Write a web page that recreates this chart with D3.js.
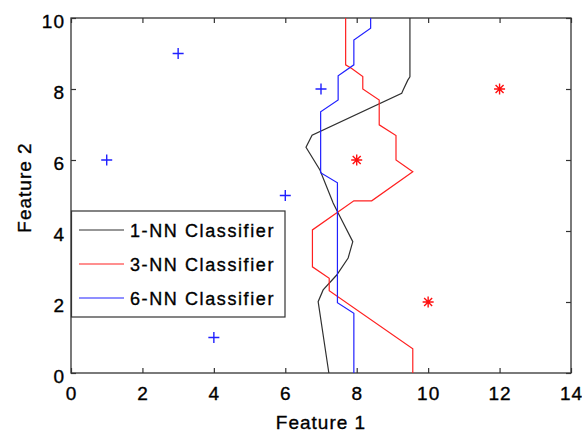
<!DOCTYPE html>
<html>
<head>
<meta charset="utf-8">
<script src="https://cdn.jsdelivr.net/npm/d3@7"></script>
<style>
  body { margin: 0; background: #fff; }
  text { font-family: "Liberation Sans", Arial, sans-serif; fill: #000; stroke: #000; stroke-width: 0.35px; }
</style>
</head>
<body>
<div id="chartContainer"></div>
<script>
const width = 582;
const height = 432;

// training points
const blueX = [1, 3, 4, 6, 7];
const blueY = [6, 9, 1, 5, 8];
const redX = [8, 10, 12];
const redY = [6, 2, 8];

// decision boundaries
const nn1X = [9.49, 9.49, 9.43, 9.30, 9.26, 6.75, 6.58, 6.97, 7.34, 7.48, 7.89, 7.76, 7.44, 7.06, 6.92, 7.22];
const nn1Y = [10, 8.34, 8.25, 7.97, 7.88, 6.70, 6.36, 5.72, 4.79, 4.51, 3.70, 3.24, 2.76, 2.34, 2.01, 0];
const nn3X = [7.69, 7.69, 7.86, 8.17, 8.17, 8.63, 8.63, 9.10, 9.10, 9.57, 8.42, 7.92, 6.76, 6.76, 7.23, 7.23, 9.57, 9.57];
const nn3Y = [10, 8.68, 8.58, 8.35, 8.0, 7.69, 6.99, 6.69, 6.0, 5.67, 4.85, 4.85, 4.03, 2.99, 2.67, 2.32, 0.68, 0];
const nn6X = [8.39, 8.39, 7.92, 7.92, 7.48, 7.48, 6.99, 6.99, 7.46, 7.46, 7.92, 7.92];
const nn6Y = [10, 9.71, 9.38, 8.68, 8.37, 7.69, 7.36, 5.64, 5.36, 1.98, 1.68, 0];

const xTicks = [0, 2, 4, 6, 8, 10, 12, 14];
const yTicks = [0, 2, 4, 6, 8, 10];
const seriesNames = ["1-NN Classifier", "3-NN Classifier", "6-NN Classifier"];
const seriesColors = ["#303030", "#ff2020", "#2020ff"];

const margin = { left: 71, right: 11, top: 18, bottom: 59 };

let svg = d3.select("#chartContainer")
  .append("svg")
  .attr("width", width)
  .attr("height", height);

let xScale = d3.scaleLinear().domain([0, 14]).range([margin.left, width - margin.right]);
let yScale = d3.scaleLinear().domain([0, 10]).range([height - margin.bottom, margin.top]);

// box
svg.append("rect")
  .attr("x", xScale(0)).attr("y", yScale(10))
  .attr("width", xScale(14) - xScale(0))
  .attr("height", yScale(0) - yScale(10))
  .attr("fill", "none")
  .attr("stroke", "#333")
  .attr("stroke-width", 1.3);

function styleAxis(g) {
  g.select(".domain").remove();
  g.selectAll(".tick line").attr("stroke", "#333").attr("stroke-width", 1.2);
  g.selectAll("text")
    .style("font-family", '"Liberation Sans", Arial, sans-serif')
    .style("font-size", "19px")
    .style("letter-spacing", "1px")
    .attr("fill", "#000");
}

svg.append("g")
  .attr("transform", `translate(0,${yScale(0)})`)
  .call(d3.axisBottom(xScale).tickValues(xTicks).tickSize(-5).tickPadding(14).tickSizeOuter(0))
  .call(styleAxis);

svg.append("g")
  .attr("transform", `translate(0,${yScale(10)})`)
  .call(d3.axisTop(xScale).tickValues(xTicks).tickSize(-5).tickFormat("").tickSizeOuter(0))
  .call(styleAxis);

svg.append("g")
  .attr("transform", `translate(${xScale(0)},0)`)
  .call(d3.axisLeft(yScale).tickValues(yTicks).tickSize(-5).tickPadding(6).tickSizeOuter(0))
  .call(styleAxis)
  .selectAll("text").attr("dy", "0.5em");

svg.append("g")
  .attr("transform", `translate(${xScale(14)},0)`)
  .call(d3.axisRight(yScale).tickValues(yTicks).tickSize(-5).tickFormat("").tickSizeOuter(0))
  .call(styleAxis);

// axis labels
svg.append("text")
  .attr("x", (xScale(0) + xScale(14)) / 2)
  .attr("y", 429)
  .attr("text-anchor", "middle")
  .style("font-size", "19px")
  .style("letter-spacing", "1px")
  .text("Feature 1");

svg.append("text")
  .attr("transform", `translate(31,${(yScale(0) + yScale(10)) / 2 - 8}) rotate(-90)`)
  .attr("text-anchor", "middle")
  .style("font-size", "19px")
  .style("letter-spacing", "1px")
  .text("Feature 2");

// boundaries
let line = d3.line().x((d) => xScale(d[0])).y((d) => yScale(d[1]));
let boundaries = [
  d3.zip(nn1X, nn1Y),
  d3.zip(nn3X, nn3Y),
  d3.zip(nn6X, nn6Y)
];

svg.selectAll(".boundary")
  .data(boundaries)
  .enter()
  .append("path")
  .attr("class", "boundary")
  .attr("d", line)
  .attr("fill", "none")
  .attr("stroke", (d, i) => seriesColors[i])
  .attr("stroke-width", 1.2);

// blue plus markers
svg.selectAll(".plus")
  .data(d3.zip(blueX, blueY))
  .enter()
  .append("path")
  .attr("class", "plus")
  .attr("transform", (d) => `translate(${xScale(d[0])},${yScale(d[1])})`)
  .attr("d", "M-5.5,0H5.5M0,-5.5V5.5")
  .attr("stroke", "#2020ff")
  .attr("stroke-width", 1.4)
  .attr("fill", "none");

// red star markers
svg.selectAll(".star")
  .data(d3.zip(redX, redY))
  .enter()
  .append("path")
  .attr("class", "star")
  .attr("transform", (d) => `translate(${xScale(d[0])},${yScale(d[1])})`)
  .attr("d", "M-5.5,0H5.5M0,-5.5V5.5M-4,-4L4,4M-4,4L4,-4")
  .attr("stroke", "#ff1010")
  .attr("stroke-width", 1.4)
  .attr("fill", "none");

// legend
let legend = svg.append("g");
legend.append("rect")
  .attr("x", 71.5).attr("y", 211)
  .attr("width", 213.5).attr("height", 106)
  .attr("fill", "#fff")
  .attr("stroke", "#333")
  .attr("stroke-width", 1.2);

let legendRows = [230, 264, 298];
seriesNames.forEach((name, i) => {
  legend.append("line")
    .attr("x1", 79).attr("x2", 124)
    .attr("y1", legendRows[i]).attr("y2", legendRows[i])
    .attr("stroke", seriesColors[i])
    .attr("stroke-width", 1.2);
  legend.append("text")
    .attr("x", 130)
    .attr("y", legendRows[i] + 7)
    .style("font-size", "18px")
    .style("letter-spacing", "1.6px")
    .text(name);
});
</script>
</body>
</html>
